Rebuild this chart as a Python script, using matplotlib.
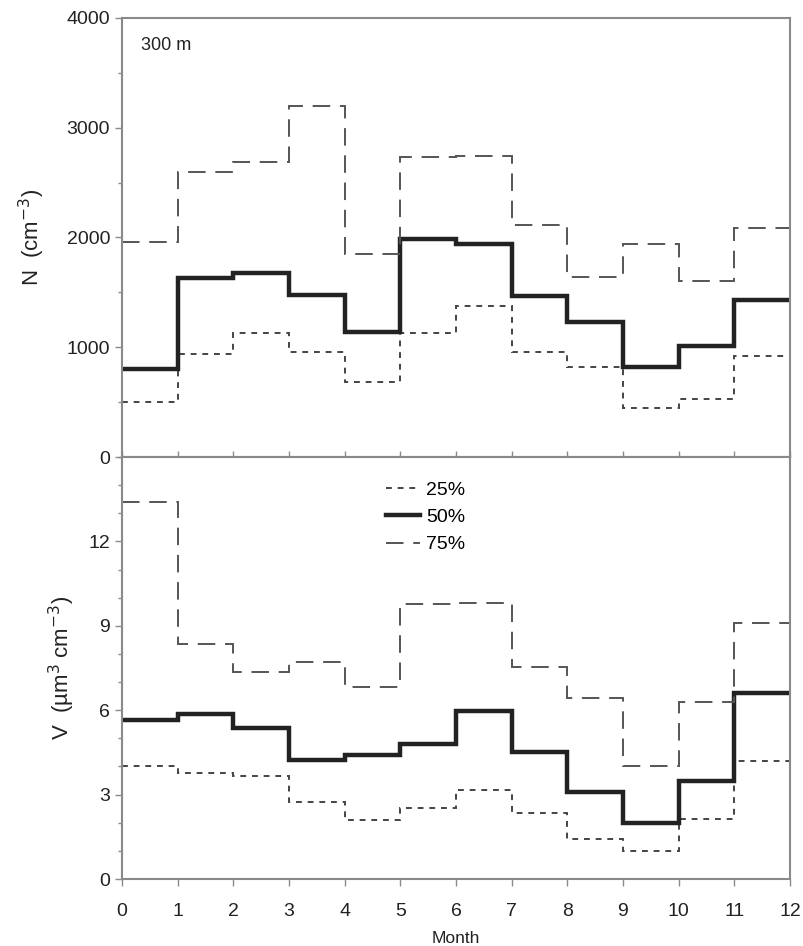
import numpy as np
import matplotlib.pyplot as plt
from matplotlib.ticker import MultipleLocator, FixedLocator

plt.rcParams['font.family'] = ['Liberation Sans', 'DejaVu Sans']

months = np.arange(13)

# number concentration percentiles (cm^-3)
n_p25 = [500, 940, 1130, 960, 680, 1130, 1380, 960, 820, 450, 530, 920]
n_p50 = [800, 1630, 1680, 1480, 1140, 1990, 1940, 1470, 1230, 820, 1010, 1430]
n_p75 = [1960, 2600, 2690, 3200, 1850, 2730, 2740, 2110, 1640, 1940, 1600, 2090]

# volume concentration percentiles (um^3 cm^-3)
v_p25 = [4.00, 3.76, 3.65, 2.73, 2.10, 2.53, 3.18, 2.34, 1.43, 1.01, 2.14, 4.19]
v_p50 = [5.65, 5.88, 5.37, 4.22, 4.42, 4.79, 5.97, 4.51, 3.11, 1.98, 3.50, 6.62]
v_p75 = [13.40, 8.34, 7.36, 7.72, 6.83, 9.76, 9.82, 7.52, 6.44, 4.01, 6.29, 9.09]

v_ticks = [0, 3, 6, 9, 12]

spine_col = '#8a8a8a'
text_col = '#222222'
styles = {
    '25%': dict(color='#444444', lw=1.4, linestyle=(0, (3, 3))),
    '50%': dict(color='#222222', lw=3.2, linestyle='-'),
    '75%': dict(color='#555555', lw=1.4, linestyle=(0, (9, 5))),
}

fig = plt.figure(figsize=(8.04, 9.46), dpi=100)
ax1 = fig.add_axes([0.1517, 0.5169, 0.8309, 0.4641])
ax2 = fig.add_axes([0.1517, 0.0708, 0.8309, 0.4461])

for ax, series in ((ax1, (n_p25, n_p50, n_p75)), (ax2, (v_p25, v_p50, v_p75))):
    for (name, st), vals in zip(styles.items(), series):
        ax.stairs(vals, months, baseline=None, label=name, **st)
    ax.set_xlim(0, 12)
    for sp in ax.spines.values():
        sp.set_color(spine_col)
        sp.set_linewidth(1.5)
    ax.tick_params(colors=spine_col, labelcolor=text_col, labelsize=14,
                   width=1, length=5)
    ax.tick_params(which='minor', colors=spine_col, width=1, length=3)
    ax.xaxis.set_major_locator(MultipleLocator(1))

ax1.set_ylim(0, 4000)
ax1.yaxis.set_major_locator(MultipleLocator(1000))
ax1.yaxis.set_minor_locator(MultipleLocator(500))
ax1.tick_params(axis='x', direction='in', labelbottom=False, length=4)
ax1.set_ylabel('N  (cm$^{-3}$)', fontsize=16, color=text_col, labelpad=14)
ax1.text(0.35, 3750, '300 m', fontsize=13, color=text_col, va='center')

ax2.set_ylim(0, 15)
ax2.yaxis.set_major_locator(FixedLocator(v_ticks))
ax2.yaxis.set_minor_locator(MultipleLocator(1))
ax2.tick_params(axis='x', pad=12)
ax2.set_ylabel('V  (µm$^3$ cm$^{-3}$)', fontsize=16, color=text_col, labelpad=8)
ax2.set_xlabel('Month', fontsize=12.5, color=text_col, labelpad=8)
ax2.legend(loc='upper left', bbox_to_anchor=(0.375, 0.975), frameon=False,
           fontsize=14, handlelength=1.75, handletextpad=0.3, labelspacing=0.5,
           borderaxespad=0.3)

fig.savefig('out.png', dpi=100)
